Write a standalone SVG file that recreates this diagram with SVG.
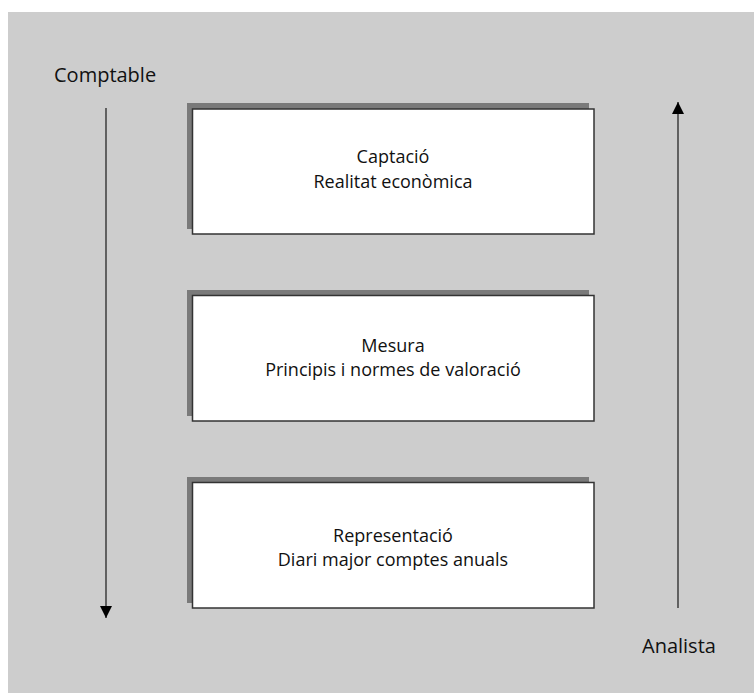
<svg xmlns="http://www.w3.org/2000/svg" width="754" height="693" viewBox="0 0 754 693">
<style>
.t{font-family:"Open Sans","Noto Sans","DejaVu Sans",sans-serif;font-size:18px;fill:#111}
.lb{font-size:20px}
.c{text-anchor:middle}
.sh{fill:#7a7a7a}
.bx{fill:#fff;stroke:#333;stroke-width:1.5}
.ln{stroke:#333;stroke-width:1.4;fill:none}
</style>
<defs>
<marker id="ah" viewBox="0 0 10 10" refX="10" refY="5" markerWidth="12" markerHeight="12" markerUnits="userSpaceOnUse" orient="auto">
<path d="M0,0 L10,5 L0,10 Z" fill="#000"/>
</marker>
</defs>
<rect x="0" y="0" width="754" height="693" fill="#fff"/>
<rect x="8" y="12" width="746" height="681" fill="#cdcdcd"/>
<g id="box1">
<rect class="sh" x="187" y="103" width="402" height="126"/>
<rect class="bx" x="192.5" y="109" width="401.5" height="125"/>
<text class="t c" x="393" y="163">Captació</text>
<text class="t c" x="393" y="188">Realitat econòmica</text>
</g>
<g id="box2">
<rect class="sh" x="187" y="290" width="402" height="126"/>
<rect class="bx" x="192.5" y="295.5" width="401.5" height="125.5"/>
<text class="t c" x="393" y="352">Mesura</text>
<text class="t c" x="393" y="376">Principis i normes de valoració</text>
</g>
<g id="box3">
<rect class="sh" x="187" y="477" width="402" height="126"/>
<rect class="bx" x="192.5" y="482.5" width="401.5" height="125.5"/>
<text class="t c" x="393" y="542">Representació</text>
<text class="t c" x="393" y="566">Diari major comptes anuals</text>
</g>
<g id="labels">
<text class="t lb" x="54" y="82">Comptable</text>
<text class="t lb" x="642" y="653">Analista</text>
</g>
<g id="connectors">
<line class="ln" x1="106" y1="108" x2="106" y2="618" marker-end="url(#ah)"/>
<line class="ln" x1="678" y1="608" x2="678" y2="102" marker-end="url(#ah)"/>
</g>
</svg>
